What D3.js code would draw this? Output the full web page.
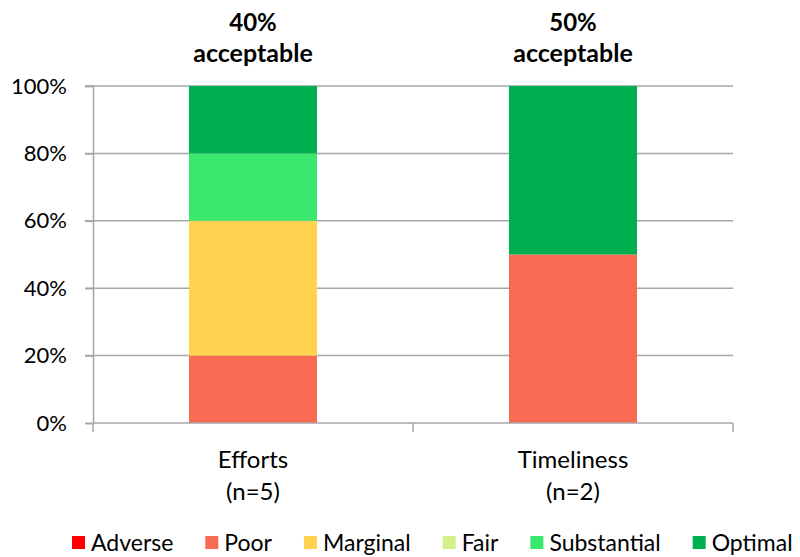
<!DOCTYPE html>
<html><head><meta charset="utf-8">
<script src="https://cdn.jsdelivr.net/npm/d3@7"></script>
<style>body{margin:0;background:#fff}svg{display:block}text{font-family:Lato,"Open Sans",sans-serif;fill:#000}</style>
</head><body>
<svg id="c" width="800" height="557"></svg>
<script>
const categories = ["Efforts", "Timeliness"];
const categorySubs = ["(n=5)", "(n=2)"];
const topLabels = ["40%", "50%"];
const series = ["Adverse", "Poor", "Marginal", "Fair", "Substantial", "Optimal"];
const colors = ["#FF0000", "#F96A52", "#FFD34F", "#D4F08A", "#3BE86E", "#00B050"];
const adverse = [0, 0];
const poor = [20, 50];
const marginal = [40, 0];
const fair = [0, 0];
const substantial = [20, 0];
const optimal = [20, 50];
const yTicks = [0, 20, 40, 60, 80, 100];

const svg = d3.select("#c");
const L = 93, R = 733, T = 86, B = 423;
const x = d3.scaleBand().domain(categories).range([L, R]).paddingInner(0.6).paddingOuter(0.3);
const y = d3.scaleLinear().domain([0, 100]).range([B, T]);
const grid = "#A6A6A6";

// gridlines
svg.append("g").selectAll("line").data(yTicks.filter(d => d > 0)).join("line")
  .attr("x1", L - 8).attr("x2", R).attr("y1", d => y(d)).attr("y2", d => y(d))
  .attr("stroke", grid).attr("stroke-width", 1.5);

// y axis
const ya = svg.append("g").attr("transform", `translate(${L},0)`)
  .call(d3.axisLeft(y).tickValues(yTicks).tickSize(8).tickPadding(18).tickFormat(d => d + "%"));
ya.select(".domain").attr("stroke", grid).attr("stroke-width", 1.5);
ya.selectAll(".tick line").attr("stroke", grid).attr("stroke-width", 1.5);
ya.selectAll("text").style("font-size", "22px").style("font-family", "Lato,sans-serif").attr("fill", "#000");

// stacked data
const rows = categories.map((c, i) => ({cat: c, Adverse: adverse[i], Poor: poor[i], Marginal: marginal[i], Fair: fair[i], Substantial: substantial[i], Optimal: optimal[i]}));
const stacked = d3.stack().keys(series)(rows);
const color = d3.scaleOrdinal().domain(series).range(colors);

svg.append("g").selectAll("g").data(stacked).join("g").attr("fill", d => color(d.key))
  .selectAll("rect").data(d => d).join("rect")
  .attr("x", d => x(d.data.cat)).attr("width", x.bandwidth())
  .attr("y", d => y(d[1])).attr("height", d => y(d[0]) - y(d[1]));

// x axis
const step = x.step();
svg.append("line").attr("x1", L).attr("x2", R).attr("y1", B).attr("y2", B).attr("stroke", grid).attr("stroke-width", 1.5);
const xt = [L].concat(categories.map(c => x(c) + x.bandwidth() / 2 + step / 2));
svg.append("g").selectAll("line").data(xt).join("line")
  .attr("x1", d => d).attr("x2", d => d).attr("y1", B).attr("y2", B + 9)
  .attr("stroke", grid).attr("stroke-width", 1.5);

const cx = svg.append("g").selectAll("g").data(categories).join("g")
  .attr("transform", c => `translate(${x(c) + x.bandwidth() / 2},0)`);
cx.append("text").attr("y", 468).attr("text-anchor", "middle").style("font-size", "24px").text(c => c);
cx.append("text").attr("y", 500).attr("text-anchor", "middle").style("font-size", "24px").text((c, i) => categorySubs[i]);
cx.append("text").attr("y", 31).attr("text-anchor", "middle").style("font-size", "24px").style("font-weight", "bold").text((c, i) => topLabels[i]);
cx.append("text").attr("y", 62).attr("text-anchor", "middle").style("font-size", "25px").style("font-weight", "bold").text("acceptable");

// legend
const lg = svg.append("g");
let cur = 0;
const gap = 32;
series.forEach((s, i) => {
  const g = lg.append("g").attr("transform", `translate(${cur},0)`);
  g.append("rect").attr("x", 0).attr("y", -15).attr("width", 13).attr("height", 13).attr("fill", colors[i]);
  const t = g.append("text").attr("x", 19).attr("y", 0).style("font-size", "23px").text(s);
  cur += 19 + t.node().getComputedTextLength() + gap;
});
const total = cur - gap;
lg.attr("transform", `translate(${Math.min(72, 796 - total)},551)`);
</script>
</body></html>
